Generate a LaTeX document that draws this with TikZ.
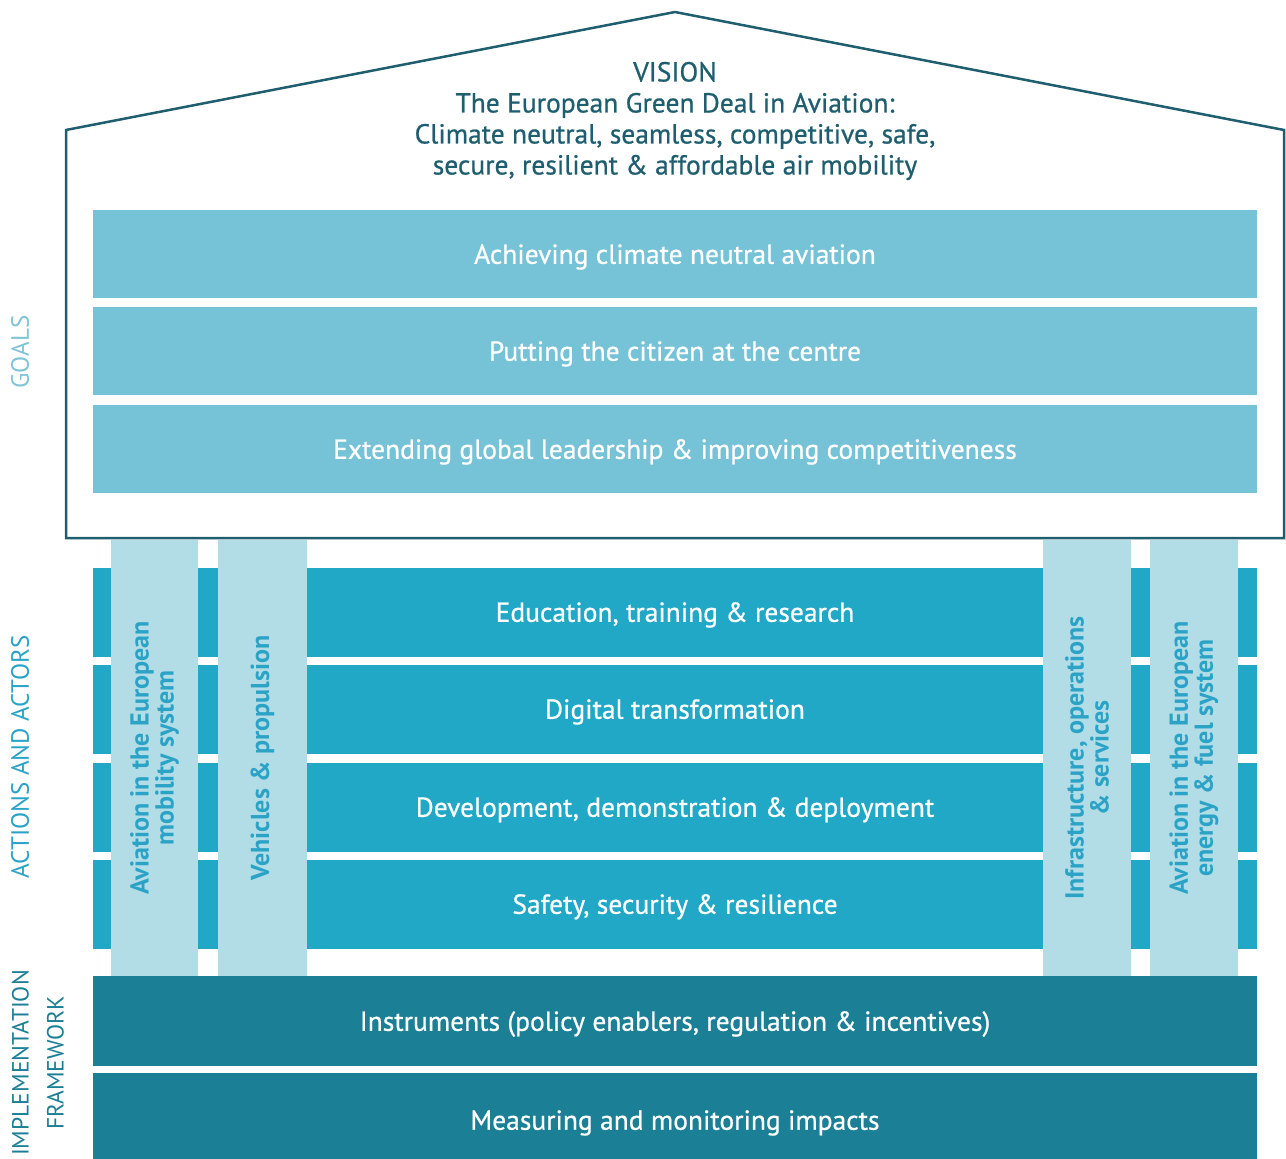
\documentclass[tikz,border=0pt]{standalone}
\usepackage{fontspec}
\setmainfont{PT Sans}
\newfontfamily\medfont{PT Sans}[FakeBold=0.7]
\definecolor{housecol}{HTML}{1F5E6E}
\definecolor{goalcol}{HTML}{76C2D7}
\definecolor{actcol}{HTML}{21A8C7}
\definecolor{pillcol}{HTML}{B2DDE6}
\definecolor{pilltext}{HTML}{2BA3C6}
\definecolor{implcol}{HTML}{1B7F95}
\definecolor{goalslab}{HTML}{80C4D6}
\tikzset{
  band/.style={minimum width=1164pt, inner sep=0pt, text=white, text depth=0pt,
    font=\medfont\fontsize{27.5}{30}\selectfont},
  goalbox/.style={band, fill=goalcol, minimum height=88pt},
  actbox/.style={band, fill=actcol, minimum height=89pt},
  implbox/.style={band, fill=implcol, minimum height=90pt},
  pillar/.style={fill=pillcol, minimum height=436pt, inner sep=0pt},
  pilllabel/.style={rotate=90, text=pilltext, align=center,
    font=\bfseries\fontsize{26}{25}\selectfont},
  sidelabel/.style={rotate=90, align=center, font=\fontsize{25}{35}\selectfont}
}
\begin{document}
\begin{tikzpicture}[x=1pt,y=-1pt]
\useasboundingbox (0,0) rectangle (1286,1159);
\draw[housecol, line width=2.5pt, line join=miter] (66,538) -- (66,130) -- (675,12) -- (1284,130) -- (1284,538) -- cycle;
\node[text=housecol, align=center, font=\medfont\fontsize{27.5}{31}\selectfont] (vision) at (675,121)
  {VISION\\The European Green Deal in Aviation:\\Climate neutral, seamless, competitive, safe,\\secure, resilient \& affordable air mobility};
% goals
\node[goalbox] (g1) at (675,254) {Achieving climate neutral aviation};
\node[goalbox] (g2) at (675,351) {Putting the citizen at the centre};
\node[goalbox] (g3) at (675,449) {Extending global leadership \& improving competitiveness};
% actions
\node[actbox] (a1) at (675,612) {Education, training \& research};
\node[actbox] (a2) at (675,709) {Digital transformation};
\node[actbox] (a3) at (675,807) {Development, demonstration \& deployment};
\node[actbox] (a4) at (675,904) {Safety, security \& resilience};
% pillars
\node[pillar, minimum width=87pt] (p1) at (154.5,758) {};
\node[pillar, minimum width=89pt] (p2) at (262.5,758) {};
\node[pillar, minimum width=88pt] (p3) at (1087,758) {};
\node[pillar, minimum width=88pt] (p4) at (1194,758) {};
\node[pilllabel] (t1) at (p1.center) {Aviation in the European\\mobility system};
\node[pilllabel] (t2) at (p2.center) {Vehicles \& propulsion};
\node[pilllabel] (t3) at (p3.center) {Infrastructure, operations\\\& services};
\node[pilllabel] (t4) at (p4.center) {Aviation in the European\\energy \& fuel system};
% implementation
\node[implbox] (i1) at (675,1021) {Instruments (policy enablers, regulation \& incentives)};
\node[implbox, minimum height=88pt] (i2) at (675,1117) {};
\node[text=white, text depth=0pt, font=\medfont\fontsize{27.5}{30}\selectfont] (i2t) at (675,1120) {Measuring and monitoring impacts};
% side labels
\node[sidelabel, text=goalslab] (lg) at (20,352) {GOALS};
\node[sidelabel, text=pilltext] (la) at (20,757) {ACTIONS AND ACTORS};
\node[sidelabel, text=implcol, font=\fontsize{23.5}{35}\selectfont] (li) at (38,1063) {IMPLEMENTATION\\FRAMEWORK};
\end{tikzpicture}
\end{document}
